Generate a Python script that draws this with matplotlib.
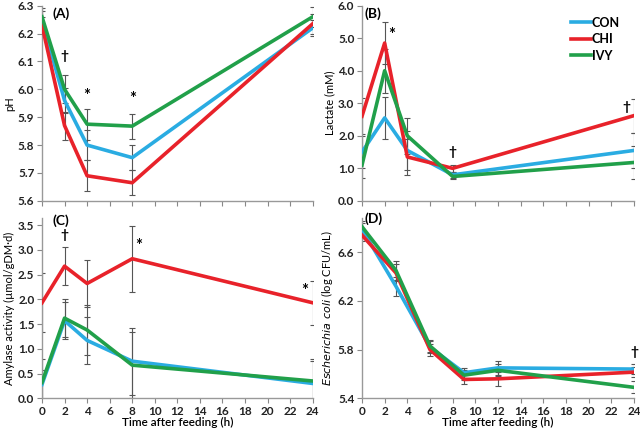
import matplotlib
matplotlib.use("Agg")
import matplotlib.pyplot as plt

plt.rcParams['font.family'] = ['Lato', 'DejaVu Sans']

# time points (h)
t_main = [0, 2, 4, 8, 24]
t_ecoli = [0, 3, 6, 9, 12, 24]

# (A) pH
ph_con = [6.25, 5.96, 5.80, 5.755, 6.22]
ph_chi = [6.23, 5.87, 5.69, 5.665, 6.235]
ph_ivy = [6.26, 6.00, 5.875, 5.868, 6.26]
ph_con_err = [0.03, 0.045, 0.055, 0.045, 0.03]
ph_chi_err = [0.03, 0.05, 0.055, 0.045, 0.035]
ph_ivy_err = [0.03, 0.05, 0.055, 0.045, 0.035]

# (B) lactate
lac_con = [1.5, 2.55, 1.55, 0.80, 1.55]
lac_chi = [2.6, 4.85, 1.35, 1.00, 2.62]
lac_ivy = [1.1, 4.00, 2.00, 0.75, 1.18]
lac_con_err = [0.5, 0.65, 0.6, 0.1, 0.55]
lac_chi_err = [0.55, 0.65, 0.55, 0.1, 0.52]
lac_ivy_err = [0.4, 0.68, 0.55, 0.08, 0.5]

# (C) amylase
amy_con = [0.28, 1.57, 1.17, 0.75, 0.30]
amy_chi = [1.93, 2.67, 2.32, 2.82, 1.93]
amy_ivy = [0.32, 1.62, 1.38, 0.67, 0.35]
amy_con_err = [0.3, 0.38, 0.48, 0.68, 0.45]
amy_chi_err = [0.6, 0.38, 0.48, 0.67, 0.45]
amy_ivy_err = [0.48, 0.38, 0.5, 0.67, 0.45]

# (D) E. coli
eco_con = [6.79, 6.32, 5.82, 5.61, 5.65, 5.64]
eco_chi = [6.74, 6.43, 5.80, 5.555, 5.56, 5.615]
eco_ivy = [6.81, 6.45, 5.83, 5.59, 5.63, 5.49]
eco_con_err = [0.05, 0.08, 0.05, 0.04, 0.06, 0.04]
eco_chi_err = [0.05, 0.07, 0.05, 0.04, 0.06, 0.04]
eco_ivy_err = [0.05, 0.08, 0.05, 0.04, 0.05, 0.05]

groups = ['CON', 'CHI', 'IVY']
colors = ['#2AACE2', '#E8222A', '#21A04A']

fig = plt.figure(figsize=(6.4, 4.32), dpi=100)
axA = fig.add_axes([0.0656, 0.535, 0.423, 0.452])
axB = fig.add_axes([0.5656, 0.535, 0.425, 0.452])
axC = fig.add_axes([0.0656, 0.078, 0.423, 0.417])
axD = fig.add_axes([0.5656, 0.078, 0.425, 0.417])


def draw(ax, t, series, errs):
    for y, e in zip(series, errs):
        ax.errorbar(t, y, yerr=e, fmt='none', ecolor='#555555', elinewidth=0.8,
                    capsize=2, capthick=0.8, zorder=2)
    for y, c, g in zip(series, colors, groups):
        ax.plot(t, y, color=c, lw=2.6, label=g, zorder=3)


def style(ax, ylim, yticks, labels_x):
    ax.set_xlim(0, 24)
    ax.set_ylim(*ylim)
    ax.set_xticks(range(0, 25, 2))
    ax.set_yticks(yticks)
    ax.set_yticklabels(['%.1f' % v for v in yticks], fontweight='bold', fontsize=8.5)
    for s in ['top', 'right']:
        ax.spines[s].set_visible(False)
    for s in ['left', 'bottom']:
        ax.spines[s].set_color('#999999')
        ax.spines[s].set_linewidth(1.0)
    ax.tick_params(axis='both', colors='#888888', labelcolor='#222222', length=3.5, width=0.8, pad=2)
    if labels_x:
        ax.set_xticklabels([str(v) for v in range(0, 25, 2)], fontweight='bold', fontsize=8.5)
        ax.set_xlabel('Time after feeding (h)', fontsize=8.5, fontweight='semibold', labelpad=0)
    else:
        ax.set_xticklabels([])


draw(axA, t_main, [ph_con, ph_chi, ph_ivy], [ph_con_err, ph_chi_err, ph_ivy_err])
style(axA, (5.6, 6.3), [5.6, 5.7, 5.8, 5.9, 6.0, 6.1, 6.2, 6.3], False)
axA.set_ylabel('pH', fontsize=8, labelpad=2)
axA.text(0.04, 0.99, '(A)', transform=axA.transAxes, fontsize=10, fontweight='bold', va='top')
axA.text(2, 6.12, '†', ha='center', va='center', fontsize=10, fontweight='bold')
axA.text(4, 5.975, '*', ha='center', va='center', fontsize=12, fontweight='bold')
axA.text(8, 5.965, '*', ha='center', va='center', fontsize=12, fontweight='bold')

draw(axB, t_main, [lac_con, lac_chi, lac_ivy], [lac_con_err, lac_chi_err, lac_ivy_err])
style(axB, (0, 6.0), [0, 1, 2, 3, 4, 5, 6], False)
axB.set_ylabel('Lactate (mM)', fontsize=8, labelpad=2)
axB.text(0.01, 0.99, '(B)', transform=axB.transAxes, fontsize=10, fontweight='bold', va='top')
axB.text(2.6, 5.1, '*', ha='center', va='center', fontsize=12, fontweight='bold')
axB.text(8, 1.5, '†', ha='center', va='center', fontsize=10, fontweight='bold')
axB.text(23.3, 2.9, '†', ha='center', va='center', fontsize=10, fontweight='bold')
axB.legend(loc='upper right', bbox_to_anchor=(0.99, 1.0), frameon=False,
           handlelength=1.6, handletextpad=0.1, labelspacing=0.35, prop={'weight': 'bold', 'size': 9})

draw(axC, t_main, [amy_con, amy_chi, amy_ivy], [amy_con_err, amy_chi_err, amy_ivy_err])
style(axC, (0, 3.64), [0, 0.5, 1.0, 1.5, 2.0, 2.5, 3.0, 3.5], True)
axC.set_ylabel('Amylase activity (µmol/gDM·d)', fontsize=8, labelpad=2)
axC.text(0.04, 1.02, '(C)', transform=axC.transAxes, fontsize=10, fontweight='bold', va='top')
axC.text(2, 3.3, '†', ha='center', va='center', fontsize=10, fontweight='bold')
axC.text(8.6, 3.07, '*', ha='center', va='center', fontsize=12, fontweight='bold')
axC.text(23.3, 2.17, '*', ha='center', va='center', fontsize=12, fontweight='bold')

draw(axD, t_ecoli, [eco_con, eco_chi, eco_ivy], [eco_con_err, eco_chi_err, eco_ivy_err])
style(axD, (5.4, 6.88), [5.4, 5.8, 6.2, 6.6], True)
axD.set_ylabel(r'$\it{Escherichia\ coli}$ (log CFU/mL)', fontsize=8, labelpad=2)
axD.text(0.01, 1.03, '(D)', transform=axD.transAxes, fontsize=10, fontweight='bold', va='top')
axD.text(24, 5.78, '†', ha='center', va='center', fontsize=10, fontweight='bold')

fig.savefig('out.png', dpi=100)
